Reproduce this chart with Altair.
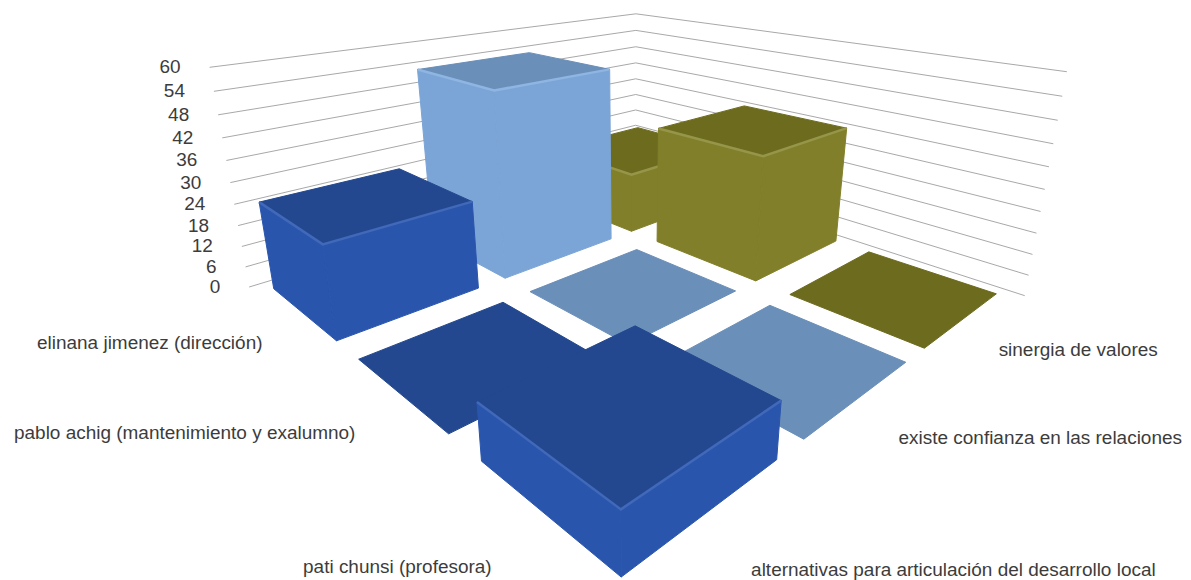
import numpy as np
import pandas as pd
import altair as alt

# --- chart values
categories = ["elinana jimenez (dirección)", "pablo achig (mantenimiento y exalumno)", "pati chunsi (profesora)"]
series = ["alternativas para articulación del desarrollo local", "existe confianza en las relaciones", "sinergia de valores"]
alternativas = [25, 0, 13]
existe = [53, 0, 0]
sinergia = [19, 36, 0]
ticks = [0, 6, 12, 18, 24, 30, 36, 42, 48, 54, 60]

# --- styles
side = ["#2a55ad", "#7ba5d6", "#817f29"]
top = ["#23488f", "#6a8fb9", "#6d6b1e"]
bevel = ["#4169b9", "#8fb5e2", "#96964a"]
FONT = "Liberation Sans"
FS = 19
TXT = "#3c3c3c"

# --- camera: (u, v, z) -> pixel, calibrated on the picture's wall, floor and bar tops
gu, gv = 0.115, 0.09
calib = [
    (0, 0, 0, 247, 288), (0, 3, 0, 637, 172), (3, 3, 0, 1025, 295),
    (0, 0, 60, 207, 69), (0, 3, 60, 637, 12), (3, 3, 60, 1067, 72),
    (3 - gu, gv, 0, 622, 578), (gu, gv, 0, 272, 288), (3 - gu, 3 - gv, 0, 997, 295),
    (2 + gu, 3 - gv, 0, 865, 251), (2 + gu, 2 + gv, 0, 787, 293), (3 - gu, 2 + gv, 0, 925, 350),
    (1 + gu, gv, 0, 358, 360), (2 - gu, gv, 0, 450, 438), (2 + gu, gv, 0, 477, 458),
    (3 - gu, 1 - gv, 0, 775, 462), (1 - gu, gv, 0, 338, 343), (1 - gu, 1 - gv, 0, 478, 292),
    (2 + gu, 1 + gv, 0, 683, 350), (2 + gu, 2 - gv, 0, 767, 305), (3 - gu, 2 - gv, 0, 904, 365),
    (3 - gu, 1 + gv, 0, 804, 442), (1 + gu, 1 + gv, 0, 530, 292), (1 + gu, 2 - gv, 0, 633, 248),
    (2 - gu, 2 - gv, 0, 735, 293), (1 + gu, 2 + gv, 0, 657, 240), (2 - gu, 2 + gv, 0, 758, 280),
    (2 - gu, 3 - gv, 0, 838, 241), (1 + gu, 1 - gv, 0, 498, 303),
    (2 + gu, gv, 13, 473, 398), (2 + gu, 1 - gv, 13, 628, 325), (3 - gu, 1 - gv, 13, 778, 402), (3 - gu, gv, 13, 620, 512),
    (gu, gv, 25, 260, 200), (gu, 1 - gv, 25, 395, 167), (1 - gu, 1 - gv, 25, 472, 200), (1 - gu, gv, 25, 323, 245),
    (gu, 1 + gv, 53, 418, 70), (gu, 2 - gv, 53, 525, 52), (1 - gu, 2 - gv, 53, 610, 70), (1 - gu, 1 + gv, 53, 498, 90),
    (1 + gu, 2 + gv, 36, 658, 128), (1 + gu, 3 - gv, 36, 742, 105), (2 - gu, 3 - gv, 36, 847, 128), (2 - gu, 2 + gv, 36, 765, 157),
]
A, b = [], []
for u, v, z, x, y in calib:
    A.append([u, v, z, 1, 0, 0, 0, 0, -x * u, -x * v, -x * z]); b.append(x)
    A.append([0, 0, 0, 0, u, v, z, 1, -y * u, -y * v, -y * z]); b.append(y)
p = np.linalg.lstsq(np.array(A, float), np.array(b, float), rcond=None)[0]


def proj(u, v, z):
    w = p[8] * u + p[9] * v + p[10] * z + 1
    return (p[0] * u + p[1] * v + p[2] * z + p[3]) / w + 1.5, (p[4] * u + p[5] * v + p[6] * z + p[7]) / w


W, H = 1175, 572
xs = alt.Scale(domain=[8, 8 + W], range=[0, W])
ys = alt.Scale(domain=[8, 8 + H], range=[0, H])
X = alt.X("x:Q", scale=xs, axis=None)
Y = alt.Y("y:Q", scale=ys, axis=None)


def poly(pts, closed=True):
    seq = pts + pts[:1] if closed else pts
    return pd.DataFrame([dict(zip("xy", proj(*q)), k=k) for k, q in enumerate(seq)])


# --- bars, painted back to front
table = [alternativas, existe, sinergia]
cells = sorted(((i, j) for i in range(3) for j in range(3)), key=lambda c: c[0] + 2 - c[1])
marks = []


def face(pts, col):
    marks.append(alt.Chart(poly(pts)).mark_line(strokeWidth=1, strokeJoin="round", color=col, fill=col).encode(
        x=X, y=Y, order="k:Q"))


for i, j in cells:
    z = table[j][i]
    u0, u1, v0, v1 = i + gu, i + 1 - gu, j + gv, j + 1 - gv
    if z > 0:
        face([(u0, v0, 0), (u1, v0, 0), (u1, v0, z), (u0, v0, z)], side[j])
        face([(u1, v0, 0), (u1, v1, 0), (u1, v1, z), (u1, v0, z)], side[j])
    face([(u0, v0, z), (u1, v0, z), (u1, v1, z), (u0, v1, z)], top[j])
    if z > 0:
        marks.append(alt.Chart(poly([(u0, v0, z), (u1, v0, z), (u1, v1, z)], closed=False)).mark_line(
            strokeWidth=2.5, color=bevel[j]).encode(x=X, y=Y, order="k:Q"))

# --- walls
grid_rows = []
for t in ticks:
    for k, q in enumerate([(0, 0, t), (0, 3, t), (3, 3, t)]):
        x, y = proj(*q)
        grid_rows.append({"x": x, "y": y, "t": t, "k": k})
grid_df = pd.DataFrame(grid_rows)
grid = alt.Chart(grid_df).mark_line(color="#a8a8a8", strokeWidth=1).encode(x=X, y=Y, detail="t:N", order="k:Q")

tick_df = grid_df[grid_df.k == 0].copy()
tick_df["lx"] = tick_df["x"] - 29
tick_df["label"] = tick_df["t"].astype(str)
ticks_txt = alt.Chart(tick_df).mark_text(align="right", baseline="middle", font=FONT, fontSize=FS, color=TXT).encode(
    x=alt.X("lx:Q", scale=xs, axis=None), y=Y, text="label:N")

# --- axis category labels
cat_pos = [(150, 343), (185, 433), (398, 567)]
ser_pos = [(955, 570), (1042, 438), (1080, 350)]
lab = [{"x": lx, "y": ly, "label": name} for name, (lx, ly) in zip(categories + series, cat_pos + ser_pos)]
labels = alt.Chart(pd.DataFrame(lab)).mark_text(align="center", baseline="middle", font=FONT, fontSize=FS, color=TXT).encode(
    x=X, y=Y, text="label:N")

chart = alt.layer(grid, *marks, ticks_txt, labels).properties(width=W, height=H, padding=0).configure_view(stroke=None)
chart.save("out.html", embed_options={"renderer": "svg", "actions": False})
